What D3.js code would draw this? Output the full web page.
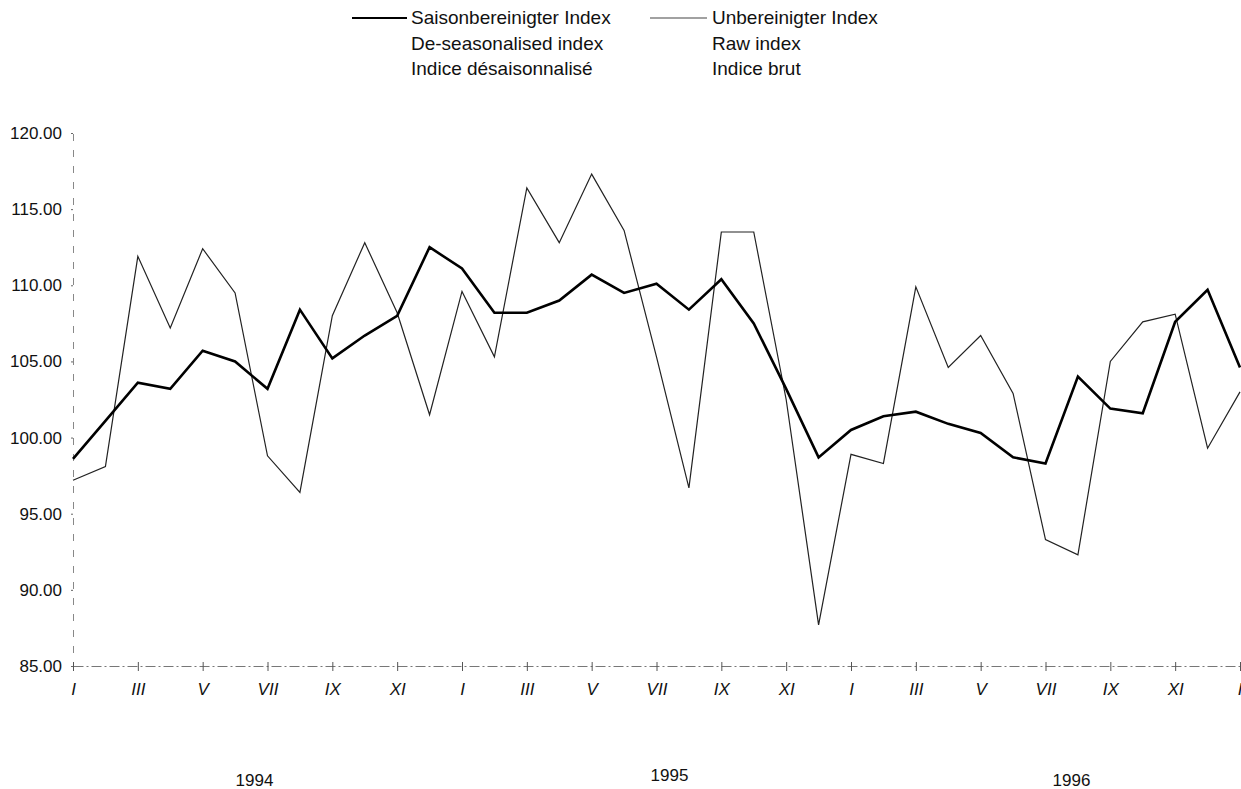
<!DOCTYPE html>
<html>
<head>
<meta charset="utf-8">
<script src="https://cdn.jsdelivr.net/npm/d3@7"></script>
<style>
  body { margin: 0; background: #fff; }
  svg { display: block; font-family: "Liberation Sans", Arial, sans-serif; }
  .legend text { font-size: 19px; fill: #111; }
  .y-axis text { font-size: 17px; fill: #111; }
  .x-axis text { font-size: 17px; font-style: italic; fill: #111; }
  .year { font-size: 17px; fill: #111; }
</style>
</head>
<body>
<svg width="1241" height="789"></svg>
<script>
// month index 0 = January 1994, 36 = January 1997
const deseasonalised = [98.6, 101.1, 103.6, 103.2, 105.7, 105.0, 103.2, 108.4, 105.2, 106.7, 108.0, 112.5,
  111.1, 108.2, 108.2, 109.0, 110.7, 109.5, 110.1, 108.4, 110.4, 107.5, 103.2, 98.7,
  100.5, 101.4, 101.7, 100.9, 100.3, 98.7, 98.3, 104.0, 101.9, 101.6, 107.6, 109.7, 104.6];
const rawIndex = [97.2, 98.1, 111.9, 107.2, 112.4, 109.5, 98.8, 96.4, 108.0, 112.8, 108.2, 101.5,
  109.6, 105.3, 116.4, 112.8, 117.3, 113.6, 105.3, 96.7, 113.5, 113.5, 102.5, 87.7,
  98.9, 98.3, 109.9, 104.6, 106.7, 102.9, 93.3, 92.3, 105.0, 107.6, 108.1, 99.3, 103.0];
const monthLabels = ["I", "III", "V", "VII", "IX", "XI"];
const yTicks = [85, 90, 95, 100, 105, 110, 115, 120];
const years = [
  { label: "1994", at: 5.6 },
  { label: "1995", at: 18.4 },
  { label: "1996", at: 30.8 },
];
const legendRows = [
  ["Saisonbereinigter Index", "Unbereinigter Index"],
  ["De-seasonalised index", "Raw index"],
  ["Indice désaisonnalisé", "Indice brut"],
];

const svg = d3.select("svg");

const x = d3.scaleLinear().domain([0, 36]).range([73, 1240]);
const y = d3.scaleLinear().domain([85, 120]).range([666, 133]);

// Y axis: faint dashed line with dotted ticks
const yAxis = svg.append("g")
  .attr("class", "y-axis")
  .attr("transform", `translate(${x(0)},0)`)
  .call(d3.axisLeft(y).tickValues(yTicks).tickFormat(d3.format(".2f")).tickSize(2).tickPadding(9));
yAxis.select(".domain")
  .attr("stroke", "#888")
  .attr("stroke-width", 1)
  .attr("stroke-dasharray", "7,9");
yAxis.selectAll(".tick line").attr("stroke", "#666");

// X axis: dash-dot baseline with small ticks
const monthTicks = d3.range(0, 37, 2);
const xAxis = svg.append("g")
  .attr("class", "x-axis")
  .attr("transform", `translate(0,${y(85)})`)
  .call(d3.axisBottom(x)
    .tickValues(monthTicks)
    .tickFormat((d) => monthLabels[(d / 2) % 6])
    .tickSizeInner(4)
    .tickSizeOuter(0)
    .tickPadding(13));
xAxis.select(".domain")
  .attr("stroke", "#777")
  .attr("stroke-width", 1)
  .attr("stroke-dasharray", "10,3,2,3");
xAxis.selectAll(".tick line")
  .attr("stroke", "#555")
  .attr("y1", -4)
  .attr("y2", 5);
// keep the last label inside the picture
xAxis.selectAll(".tick text")
  .filter((d) => d === 36)
  .attr("text-anchor", "end")
  .attr("dx", 2);

// Year labels
svg.selectAll(".year")
  .data(years)
  .enter()
  .append("text")
  .attr("class", "year")
  .attr("x", (d) => x(d.at))
  .attr("y", (d, i) => (i === 1 ? 781 : 786))
  .attr("text-anchor", "middle")
  .text((d) => d.label);

// Series
const line = d3.line()
  .x((d, i) => x(i))
  .y((d) => y(d));

svg.append("path")
  .datum(rawIndex)
  .attr("fill", "none")
  .attr("stroke", "#222")
  .attr("stroke-width", 1.2)
  .attr("stroke-linejoin", "miter")
  .attr("d", line);

svg.append("path")
  .datum(deseasonalised)
  .attr("fill", "none")
  .attr("stroke", "#000")
  .attr("stroke-width", 2.6)
  .attr("stroke-linejoin", "miter")
  .attr("d", line);

// Legend
const legend = svg.append("g").attr("class", "legend");
const colX = [411, 712];
const swatches = [
  { x1: 352, x2: 407, w: 2.2, color: "#000" },
  { x1: 650, x2: 707, w: 1.2, color: "#444" },
];
swatches.forEach((s) => {
  legend.append("line")
    .attr("x1", s.x1).attr("x2", s.x2)
    .attr("y1", 18).attr("y2", 18)
    .attr("stroke", s.color)
    .attr("stroke-width", s.w);
});
legendRows.forEach((row, r) => {
  row.forEach((txt, c) => {
    legend.append("text")
      .attr("x", colX[c])
      .attr("y", 24 + r * 25.5)
      .text(txt);
  });
});
</script>
</body>
</html>
